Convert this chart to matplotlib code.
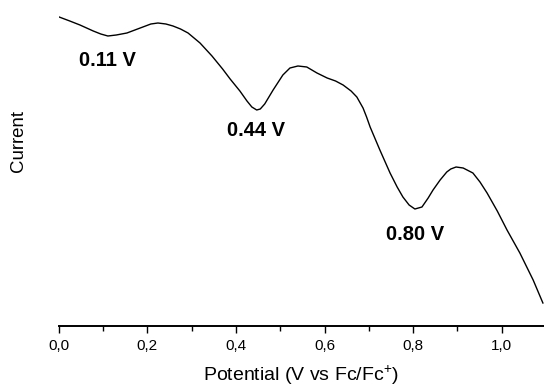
import matplotlib
matplotlib.use("Agg")
import matplotlib.pyplot as plt
from matplotlib.ticker import MultipleLocator, FuncFormatter

plt.rcParams['font.family'] = ['Liberation Sans', 'DejaVu Sans']
plt.rcParams['mathtext.fontset'] = 'custom'
plt.rcParams['mathtext.rm'] = 'Liberation Sans'

# Potential (V vs Fc/Fc+) and current (arbitrary units)
potential = [0.001, 0.025, 0.048, 0.078, 0.095, 0.111, 0.130, 0.154, 0.172, 0.190,
             0.208, 0.224, 0.242, 0.258, 0.275, 0.292, 0.319, 0.346, 0.370, 0.387,
             0.409, 0.425, 0.436, 0.447, 0.455, 0.465, 0.484, 0.506, 0.522, 0.540,
             0.560, 0.583, 0.606, 0.625, 0.642, 0.660, 0.673, 0.687, 0.695, 0.703,
             0.725, 0.748, 0.764, 0.777, 0.791, 0.804, 0.820, 0.834, 0.845, 0.861,
             0.876, 0.885, 0.897, 0.913, 0.935, 0.951, 0.967, 0.990, 1.012, 1.041,
             1.071, 1.093]
current = [3.09, 3.05, 3.01, 2.95, 2.92, 2.90, 2.91, 2.93, 2.96, 2.99,
           3.02, 3.03, 3.02, 3.00, 2.97, 2.93, 2.83, 2.70, 2.57, 2.47,
           2.35, 2.25, 2.19, 2.16, 2.17, 2.22, 2.36, 2.51, 2.58, 2.60,
           2.59, 2.53, 2.48, 2.45, 2.41, 2.35, 2.29, 2.18, 2.09, 1.99,
           1.76, 1.53, 1.39, 1.29, 1.21, 1.17, 1.19, 1.28, 1.36, 1.46,
           1.54, 1.57, 1.59, 1.58, 1.53, 1.44, 1.33, 1.15, 0.96, 0.73,
           0.46, 0.23]

peak_labels = ["0.11 V", "0.44 V", "0.80 V"]
label_x = [0.109, 0.445, 0.804]
label_y = [2.65, 1.95, 0.92]

fig = plt.figure(figsize=(5.44, 3.86), dpi=100)
ax = fig.add_axes([58.7 / 544, 60 / 386, 1.1 * 443 / 544, 326 / 386])
ax.plot(potential, current, color='black', lw=1.0, solid_joinstyle='round')

ax.set_xlim(0, 1.1)
ax.set_ylim(0, 3.26)
for s in ['left', 'right', 'top']:
    ax.spines[s].set_visible(False)
ax.spines['bottom'].set_linewidth(1.4)
ax.set_yticks([])
ax.xaxis.set_major_locator(MultipleLocator(0.2))
ax.xaxis.set_minor_locator(MultipleLocator(0.1))
ax.xaxis.set_major_formatter(FuncFormatter(lambda v, p: f"{v:.1f}".replace('.', ',')))
ax.tick_params(axis='x', which='major', length=5, width=1.0, pad=4.0, labelsize=11, direction='out')
ax.tick_params(axis='x', which='minor', length=3.6, width=1.0, direction='out')

for t, xx, yy in zip(peak_labels, label_x, label_y):
    ax.text(xx, yy, t, ha='center', va='center', fontsize=14.5, fontweight='bold')

fig.text(301 / 544, 5.5 / 386, r"Potential (V vs Fc/Fc$^{\mathregular{+}}$)", ha='center', va='baseline', fontsize=14)
fig.text(18 / 544, 1 - 141 / 386, "Current", ha='center', va='center', rotation=90, fontsize=13.4)

fig.savefig("out.png", dpi=100)
